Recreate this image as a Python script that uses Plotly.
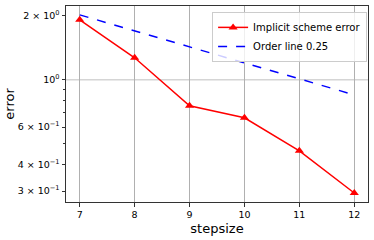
import plotly.graph_objects as go

steps = [7, 8, 9, 10, 11, 12]
implicit_error = [1.915, 1.27, 0.755, 0.663, 0.464, 0.294]
order_line = [2.02, 1.70, 1.43, 1.20, 1.01, 0.85]
y_tickvals = [0.3, 0.4, 0.6, 1.0, 2.0]
y_ticktext = ["3 × 10<sup>−1</sup>", "4 × 10<sup>−1</sup>", "6 × 10<sup>−1</sup>",
              "10<sup>0</sup>", "2 × 10<sup>0</sup>"]
y_minor = [0.3, 0.4, 0.5, 0.6, 0.7, 0.8, 0.9, 2.0]

fig = go.Figure()
fig.add_trace(go.Scatter(x=steps, y=implicit_error, mode="lines+markers",
                         name="Implicit scheme error",
                         line=dict(color="#ff0000", width=1.5),
                         marker=dict(symbol="triangle-up", size=8, color="#ff0000")))
fig.add_trace(go.Scatter(x=steps, y=order_line, mode="lines",
                         name="Order line 0.25",
                         line=dict(color="#0000ff", width=1.5, dash="dash")))

font = "DejaVu Sans"
fig.update_layout(
    width=374, height=240,
    margin=dict(l=66, r=6, t=6, b=38, autoexpand=False),
    paper_bgcolor="white", plot_bgcolor="white",
    font=dict(family=font, size=10, color="black"),
    showlegend=True,
    legend=dict(x=0.997, y=0.97, xanchor="right", yanchor="top",
                bgcolor="rgba(255,255,255,0.8)", bordercolor="#cccccc", borderwidth=1,
                font=dict(size=10, family=font, color="black"),
                tracegroupgap=0, itemwidth=30),
    xaxis=dict(range=[6.75, 12.25], tickvals=steps, ticks="outside", ticklen=3.5,
               tickcolor="#333", showline=True, linecolor="#333", linewidth=1, mirror=True,
               showgrid=True, gridcolor="#b0b0b0", gridwidth=0.8, zeroline=False,
               title=dict(text="stepsize", font=dict(size=13, family=font, color="black"), standoff=4),
               tickfont=dict(size=9.5), automargin=False),
    yaxis=dict(type="log", range=[-0.574, 0.347], tickvals=y_tickvals, ticktext=y_ticktext,
               ticks="outside", ticklen=3.5, tickcolor="#333",
               showline=True, linecolor="#333", linewidth=1, mirror=True,
               showgrid=False, zeroline=False,
               minor=dict(tickvals=y_minor, ticks="outside", ticklen=2, tickcolor="#333", showgrid=False),
               title=dict(text="error", font=dict(size=13, family=font, color="black"), standoff=0),
               tickfont=dict(size=9.5), automargin=False),
)
fig.add_hline(y=1.0, line=dict(color="#b0b0b0", width=0.8), layer="below")

fig.write_html("out.html", config={"displayModeBar": False},
               post_script="document.body.style.margin='0px';")
